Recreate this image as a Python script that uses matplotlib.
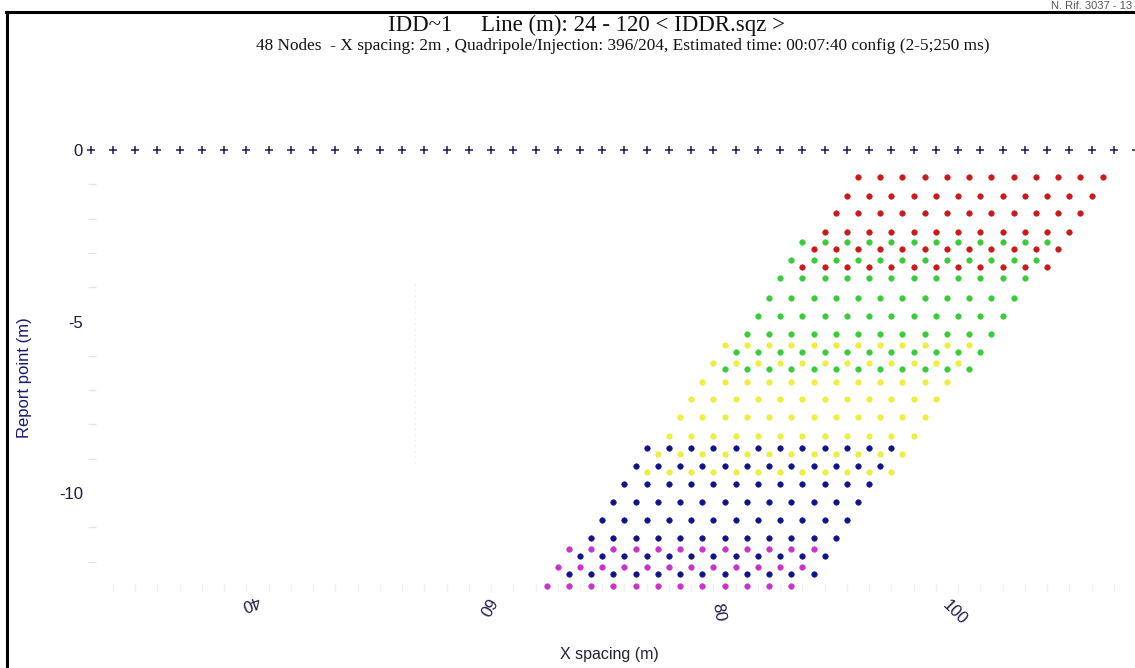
import numpy as np
import matplotlib
matplotlib.use("Agg")
import matplotlib.pyplot as plt
import matplotlib.transforms as mtransforms
from matplotlib.lines import Line2D

# =========================
# ELECTRODES (48 nodes, 2 m spacing)
# =========================
electrode_x = np.arange(24, 120, 2)

# =========================
# QUADRIPOLE REPORT POINTS
# one entry per row: depth (m), first x (m)
# =========================
red_depth = [-0.78, -1.33, -1.85, -2.38, -2.90, -3.42]
red_start = [93, 92, 91, 90, 89, 88]

green_depth = [-2.67, -3.21, -3.74, -4.31, -4.84, -5.36, -5.88, -6.39]
green_start = [88, 87, 86, 85, 84, 83, 82, 81]

yellow_depth = [-5.69, -6.22, -6.76, -7.27, -7.79, -8.33, -8.86, -9.40]
yellow_start = [81, 80, 79, 78, 77, 76, 75, 74]

blue_depth = [-8.70, -9.21, -9.75, -10.26, -10.79, -11.30, -11.83, -12.35]
blue_start = [74, 73, 72, 71, 70, 69, 68, 67]

magenta_depth = [-11.64, -12.17, -12.70]
magenta_start = [67, 66, 65]

points_per_row = 12
x_spacing = 2

yticks = [0, -5, -10]
xticks = [40, 60, 80, 100]

title = "IDD~1     Line (m): 24 - 120 < IDDR.sqz >"
subtitle = ("48 Nodes  - X spacing: 2m , Quadripole/Injection: 396/204, "
            "Estimated time: 00:07:40 config (2-5;250 ms)")


def row_points(depths, starts):
    xs, ys = [], []
    for d, s in zip(depths, starts):
        xs.extend(s + x_spacing * np.arange(points_per_row))
        ys.extend([d] * points_per_row)
    return xs, ys


W, H = 1135, 668
fig = plt.figure(figsize=(W / 100, H / 100), dpi=100)
fig.patch.set_facecolor("white")

# axes box in pixels
left, right, top, bottom = 88, 1135, 100, 592
ax = fig.add_axes([left / W, 1 - bottom / H, (right - left) / W, (bottom - top) / H])
ax.set_xlim(23.757, 117.91)
ax.set_ylim(-12.886, 1.458)
for sp in ax.spines.values():
    sp.set_visible(False)

groups = [
    (red_depth, red_start, "#cc1818"),
    (green_depth, green_start, "#38cc38"),
    (yellow_depth, yellow_start, "#eeee3c"),
    (blue_depth, blue_start, "#12128c"),
    (magenta_depth, magenta_start, "#cc30cc"),
]
for depths, starts, col in groups:
    xs, ys = row_points(depths, starts)
    ax.plot(xs, ys, linestyle="none", marker="o", markersize=4.0,
            markerfacecolor=col, markeredgecolor=col, markeredgewidth=0.4,
            clip_on=False)

ax.plot(electrode_x, np.zeros_like(electrode_x), linestyle="none", marker="+",
        markersize=5.5, markeredgewidth=1.1, color="#1a1a5e", clip_on=False)

# faint dotted guide
ax.plot([53.2, 53.2], [-3.9, -9.2], linestyle=(0, (1, 3)), color="#ececec", lw=1)

# y axis
ax.set_yticks(yticks)
ax.set_yticklabels([str(v) for v in yticks], fontsize=12, color="#1c1c3c",
                   family="Liberation Sans")
ax.tick_params(axis="y", length=0, pad=3.6)
ax.set_yticks(np.arange(-12, 0, 1), minor=True)
ax.tick_params(axis="y", which="minor", direction="in", length=6,
               width=1, color="#e4e4e4")

# x axis: faint minor ticks, labels drawn by hand
ax.set_xticks([])
ax.set_xticks(np.arange(26, 118, 2), minor=True)
ax.tick_params(axis="x", which="minor", direction="in", length=6,
               width=1, color="#efefef")

xlab_rot = [200, 240, 280, 315]
xlab_dx = [-18, -6, 5, 19]
xlab_y = [-0.022, -0.028, -0.041, -0.041]
for v, r, dx, yy in zip(xticks, xlab_rot, xlab_dx, xlab_y):
    tr = mtransforms.offset_copy(ax.get_xaxis_transform(), fig=fig, x=dx, y=0, units="dots")
    ax.text(v, yy, str(v), transform=tr, rotation=r, ha="center", va="center",
            fontsize=12, color="#1c1c4c", family="Liberation Sans",
            rotation_mode="anchor")

# titles and axis names
fig.text(586 / W, 1 - 31 / H, title, ha="center", va="baseline",
         fontsize=16.5, family="Liberation Serif", color="#111111")
fig.text(623 / W, 1 - 50 / H, subtitle, ha="center", va="baseline",
         fontsize=12.4, family="Liberation Serif", color="#111111")
fig.text(609 / W, 1 - 655 / H, "X spacing (m)", ha="center", va="center",
         fontsize=11.5, family="Liberation Sans", color="#222233")
fig.text(25 / W, 1 - 378 / H, "Report point (m)", ha="center", va="center",
         rotation=90, fontsize=12, family="Liberation Sans", color="#1a1a6e")
fig.text(1132 / W, 1 - 9 / H, "N. Rif. 3037 - 13", ha="right", va="baseline",
         fontsize=8, family="Liberation Sans", color="#555555")

# page frame
fig.add_artist(Line2D([7 / W, 7 / W], [0, 1 - 12 / H], color="black", lw=2.2,
                      transform=fig.transFigure))
fig.add_artist(Line2D([6 / W, 1], [1 - 12 / H, 1 - 12 / H], color="black", lw=2.2,
                      transform=fig.transFigure))

fig.savefig("out.png", dpi=100)
